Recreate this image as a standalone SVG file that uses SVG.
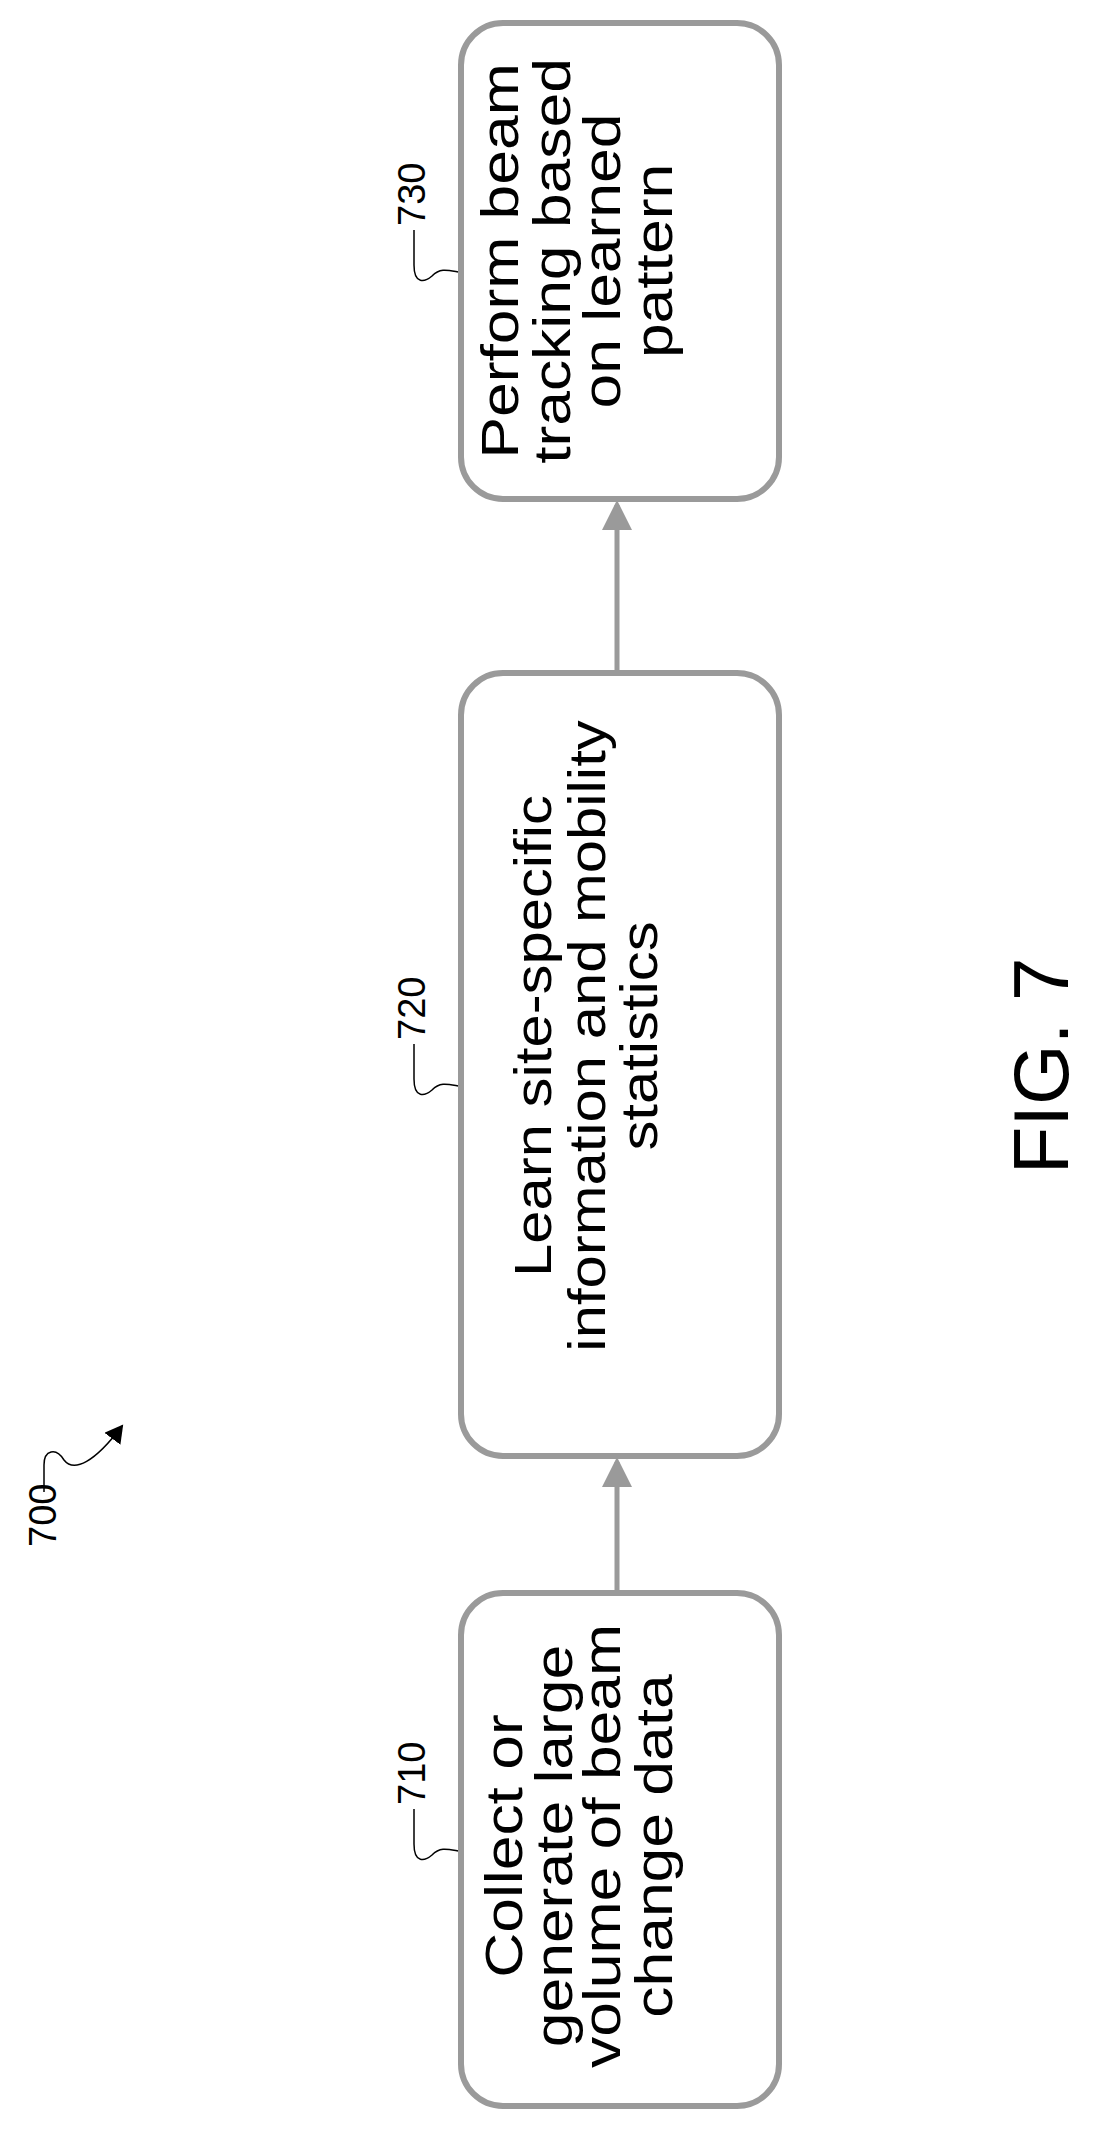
<svg xmlns="http://www.w3.org/2000/svg" width="1094" height="2139" viewBox="0 0 1094 2139">
<style>
.box{fill:#fff;stroke:#9a9a9a;stroke-width:6}
.t{font-family:"Liberation Sans",Arial,sans-serif;font-size:52px;fill:#000;text-anchor:middle}
.lbl{font-family:"Liberation Sans",Arial,sans-serif;font-size:38px;fill:#000}
.lead{fill:none;stroke:#000;stroke-width:1.5}
.conn{stroke:#9a9a9a;stroke-width:5;fill:none}
</style>
<defs>
<marker id="ah" markerWidth="6" markerHeight="6" refX="5" refY="3" orient="auto" markerUnits="strokeWidth"><path d="M0,0L6,3L0,6z" fill="#9a9a9a"/></marker>
<marker id="bk" markerWidth="20" markerHeight="20" refX="16" refY="10" orient="auto" markerUnits="userSpaceOnUse"><path d="M0,0L18,10L0,20z" fill="#000"/></marker>
</defs>
<g id="connectors">
<line class="conn" x1="617" y1="1593" x2="617" y2="1462" marker-end="url(#ah)"/>
<line class="conn" x1="617" y1="673" x2="617" y2="505" marker-end="url(#ah)"/>
</g>
<g id="n730">
<rect class="box" x="461" y="23" width="318" height="476" rx="42"/>
<g transform="translate(0,261) rotate(-90) scale(1.2,1)">
<text class="t" x="0" y="518">Perform beam</text>
<text class="t" x="0" y="570">tracking based</text>
<text class="t" x="0" y="620">on learned</text>
<text class="t" x="0" y="672">pattern</text>
</g>
<text class="lbl" transform="translate(425,226) rotate(-90)">730</text>
<path class="lead" d="M414,230 L414,265 C414,285 425,282 432,276 C440,268 447,270 458,272"/>
</g>
<g id="n720">
<rect class="box" x="461" y="673" width="318" height="783" rx="42"/>
<g transform="translate(0,1036) rotate(-90) scale(1.15,1)">
<text class="t" x="0" y="551">Learn site-specific</text>
<text class="t" x="0" y="605">information and mobility</text>
<text class="t" x="0" y="657">statistics</text>
</g>
<text class="lbl" transform="translate(425,1040) rotate(-90)">720</text>
<path class="lead" d="M414,1044 L414,1079 C414,1099 425,1096 432,1090 C440,1082 447,1084 458,1086"/>
</g>
<g id="n710">
<rect class="box" x="461" y="1593" width="318" height="513" rx="42"/>
<g transform="translate(0,1846) rotate(-90) scale(1.2,1)">
<text class="t" x="0" y="522">Collect or</text>
<text class="t" x="0" y="572">generate large</text>
<text class="t" x="0" y="620">volume of beam</text>
<text class="t" x="0" y="672">change data</text>
</g>
<text class="lbl" transform="translate(425,1805) rotate(-90)">710</text>
<path class="lead" d="M414,1809 L414,1844 C414,1864 425,1861 432,1855 C440,1847 447,1849 458,1851"/>
</g>
<g id="n700">
<text class="lbl" transform="translate(56,1547) rotate(-90)">700</text>
<path class="lead" d="M44,1492 L44,1465 C44,1450 56,1447 64,1460 C74,1473 95,1462 122,1426" marker-end="url(#bk)"/>
</g>
<text class="lbl" style="font-size:78px;text-anchor:middle" transform="translate(1068,1066) rotate(-90)">FIG. 7</text>
</svg>
